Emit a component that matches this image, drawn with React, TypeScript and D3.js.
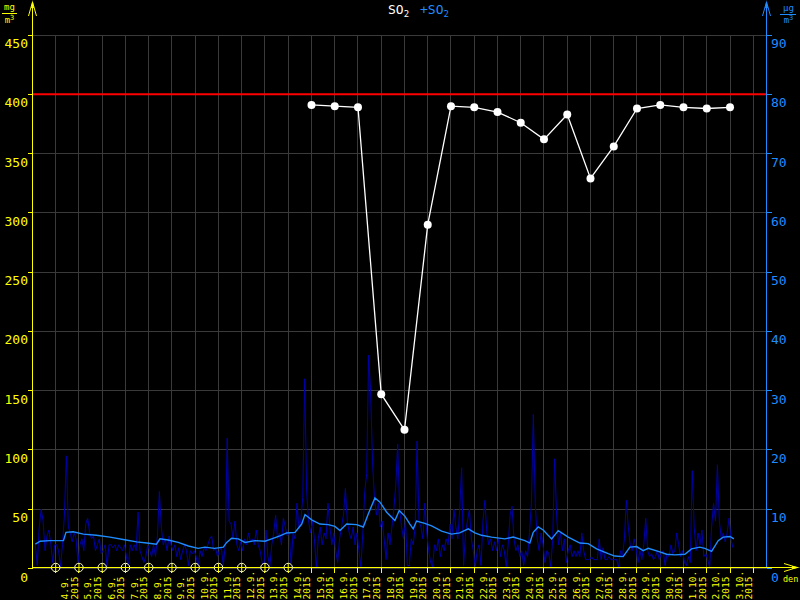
import React from "react";
import * as d3 from "d3";

const W = 800;
const H = 600;

// hourly-ish series (µg/m3, right axis), starting 3.9.2015 03:00, every 2 hours
const hourlyStart = "2015-09-03 03";
const hourlyStepHours = 2;
const hourlyValues = [
  4, 0.5, 7, 10, 8, 3, 5.5, 6.5, 4, 1, 4,
  4, 3, 0.3, 4, 9, 19, 7, 6, 4.5, 6, 5,
  1, 4, 5, 3, 7.5, 8.5, 6, 5, 5.5, 3, 4, 5,
  2.5, 3, 4, 0.3, 4, 4, 3.5, 4, 3, 4, 3.5, 3,
  4, 2, 0.3, 4, 3, 4, 3, 9.5, 3, 2, 1, 2,
  4, 3, 2, 4, 2, 5.5, 13,
  7, 4, 5, 3, 5.5, 4,
  3, 4, 2, 3.5, 1.5, 3, 4, 3, 0.5, 3, 2.5, 3,
  2, 0.2, 3, 2, 3.5, 3, 4, 5, 5.5, 3, 3.5, 2,
  3, 3.5, 0.5, 4, 22, 8, 7.5, 5, 8, 4, 3, 4.5,
  3, 5, 4, 6, 4.5, 5, 4, 6.5, 4, 3, 1, 0.5,
  6.5, 2, 0.3, 4, 6, 9, 5, 6, 4, 8.5,
  7, 5.5, 6, 0.5, 6, 5, 11, 7, 8, 12, 32, 13,
  8, 6, 8, 5, 0.2, 5, 7, 4, 6, 5, 11, 7,
  4, 6, 3, 1, 5, 7, 9, 13.5, 8, 6, 5, 7,
  4, 6, 3, 0.3, 6, 13, 16, 36, 30, 18, 12, 9,
  11, 7, 8, 5, 1.5, 6, 4, 7, 10, 14, 21, 10,
  7, 5, 8, 0.5, 0.5, 5, 4, 7, 21.5, 8, 7, 5,
  11, 6, 3, 1, 0.3, 4, 3, 5, 2, 4, 3, 5,
  4, 7.5, 5, 10, 7, 5, 10, 17, 0.5, 6, 8, 10,
  5, 3, 0.3, 3, 4, 0.5, 8, 11.5, 6, 4, 5, 3,
  4.5, 3, 5, 2, 4, 3, 0.3, 4, 9, 10.5, 5, 3,
  4, 2, 3, 0.5, 3, 2, 6, 11, 26,
  11, 5, 3, 6, 4, 1, 3, 2.5, 0.3, 5, 18.5, 9,
  4, 6, 3, 5, 1, 3, 4, 2, 3, 2, 3, 2,
  6, 3, 1.5, 1.5, 1.5, 2, 1.5, 1.5, 1.5, 5, 1.5, 3.5,
  1.5, 1.5, 2, 1.5, 1.5, 1.5, 1.5, 0.2, 3, 2, 5, 11.5,
  7, 4, 3, 5, 3.5, 1, 3, 1.5, 4, 8.5, 3, 2,
  2.5, 1.5, 2, 3, 1.5, 2.5, 3, 0.5, 2.5, 2, 4, 2.5,
  3, 6, 4, 2, 3, 1, 0.5, 2, 1, 16.5, 7, 3,
  6, 4, 6.5, 2, 2.5, 1.5, 0.2, 7, 11, 8, 17.5, 8,
  5, 6, 4.5, 6, 8.5, 5, 3.5,
];

// running average (µg/m3, right axis): hours since 3.9.2015 00:00 and values
const avgHours = [
  3, 8, 18, 32, 34.6, 42, 52.5, 66, 80, 96.6, 107.6, 118, 128, 131.6, 140, 150.5,
  161, 171, 178, 188, 197, 200.5, 205.6, 212.5, 219.4, 229.7, 240, 246.9, 255.4,
  262.4, 271, 277.9, 281.3, 288.2, 296.7, 305.3, 312.2, 317.4, 324.3, 334.6, 341.5,
  346.6, 353.5, 358.7, 365.6, 374.1, 378.6, 384.5, 389.6, 393, 396.5, 405, 412,
  422.3, 432.6, 441, 449.8, 456.7, 463.6, 473.9, 487.6, 496.2, 508.3, 513.4, 516.9,
  522, 527.2, 535.9, 542.7, 553, 565, 573.6, 582.3, 594.3, 601, 609.7, 616.7, 623.6,
  630.4, 635.6, 647.6, 654.5, 663.1, 673.4, 680.3, 688.9, 694, 701, 707.8, 713, 720, 724,
];
const avgValues = [
  4.1, 4.6, 4.7, 4.7, 6.1, 6.2, 5.8, 5.6, 5.3, 4.8, 4.5, 4.3, 4.1, 5, 4.8, 4.4,
  3.8, 3.4, 3.6, 3.4, 3.6, 4.4, 5.1, 5, 4.4, 4.7, 4.6, 5, 5.5,
  6, 6.1, 7.5, 9.1, 8.2, 7.5, 7.4, 7.1, 6.4, 7.5, 7.4, 7,
  9.2, 11.9, 11.2, 9.5, 8.1, 9.8, 8.8, 7.5, 6.7, 8, 7.6, 7.2,
  6.3, 5.8, 6, 6.7, 6, 5.6, 5.3, 5, 5.3, 4.7, 4.3, 6.1,
  7, 6.5, 5, 6.4, 5.3, 4.3, 4.2, 3.3, 2.5, 2.1, 2, 3.6, 3.7,
  3, 3.4, 2.8, 2.4, 2.3, 2.4, 3.3, 3.6, 3.4, 2.9, 4.7, 5.3, 5.4, 5,
];

// daily values (left axis)
const dailyDates = [
  "2015-09-15", "2015-09-16", "2015-09-17", "2015-09-18", "2015-09-19", "2015-09-20",
  "2015-09-21", "2015-09-22", "2015-09-23", "2015-09-24", "2015-09-25", "2015-09-26",
  "2015-09-27", "2015-09-28", "2015-09-29", "2015-09-30", "2015-10-01", "2015-10-02",
  "2015-10-03",
];
const dailyValues = [
  391, 390, 389, 147, 117, 290, 390, 389, 385, 376, 362, 383, 329, 356, 388, 391, 389, 388, 389,
];
// days without daily value
const missingDates = [
  "2015-09-04", "2015-09-05", "2015-09-06", "2015-09-07", "2015-09-08", "2015-09-09",
  "2015-09-10", "2015-09-11", "2015-09-12", "2015-09-13", "2015-09-14",
];

const limitValue = 400;
const leftTicks = [0, 50, 100, 150, 200, 250, 300, 350, 400, 450];
const rightTicks = [0, 10, 20, 30, 40, 50, 60, 70, 80, 90];
const labelYear = "2015";

const YELLOW = "#ffff00";
const BLUE = "#1e8cff";
const DARKBLUE = "#0000a8";
const GRID = "#3a3a3a";
const FONT = "'DejaVu Sans Mono', monospace";

const c = (v: number) => Math.floor(v) + 0.5;

export default function App() {
  const parseDay = d3.timeParse("%Y-%m-%d");
  const parseHour = d3.timeParse("%Y-%m-%d %H");
  const t0 = new Date(2015, 8, 3, 0);
  const x = d3
    .scaleTime()
    .domain([t0, new Date(2015, 9, 4, 13, 40)])
    .range([32.45, 766.5]);
  const yL = d3.scaleLinear().domain([0, 450]).range([568.5, 35]);
  const yR = d3.scaleLinear().domain([0, 90]).range([568.5, 35]);

  const start = parseHour(hourlyStart) as Date;
  const hourly = hourlyValues.map((v, i) => ({
    t: d3.timeHour.offset(start, i * hourlyStepHours),
    v,
  }));
  const avg = avgHours.map((h, i) => ({
    t: new Date(t0.getTime() + h * 3600 * 1000),
    v: avgValues[i],
  }));
  const daily = dailyDates.map((d, i) => ({ t: parseDay(d) as Date, v: dailyValues[i] }));
  const missing = missingDates.map((d) => parseDay(d) as Date);

  const days = d3.timeDay.range(new Date(2015, 8, 4), new Date(2015, 9, 5));
  const labelDays = days.slice(0, days.length - 1);
  const fmt = d3.timeFormat("%-d.%-m.");

  const lineR = d3
    .line<{ t: Date; v: number }>()
    .x((d) => x(d.t))
    .y((d) => yR(d.v));
  const lineL = d3
    .line<{ t: Date; v: number }>()
    .x((d) => x(d.t))
    .y((d) => yL(d.v));

  const x0 = c(x(t0));
  const x1 = c(x.range()[1]);
  const y0 = c(yL(0)) - 1;
  const yTop = c(yL(450));

  return (
    <div style={{ position: "fixed", left: 0, top: 0 }}>
      <svg width={W} height={H} style={{ display: "block", background: "#000" }}>
        <rect x={0} y={0} width={W} height={H} fill="#000" />
        {/* grid */}
        <g shapeRendering="crispEdges" stroke={GRID} strokeWidth={1}>
          {leftTicks.map((t) => (
            <line key={"h" + t} x1={x0} x2={x1} y1={c(yL(t))} y2={c(yL(t))} />
          ))}
          {days.map((d, i) => (
            <line key={"v" + i} x1={c(x(d))} x2={c(x(d))} y1={yTop} y2={y0} />
          ))}
        </g>
        {/* limit line */}
        <line
          x1={x0}
          x2={x1}
          y1={yL(limitValue)}
          y2={yL(limitValue)}
          stroke="#ff0000"
          strokeWidth={2}
        />
        {/* hourly series */}
        <path d={lineR(hourly) || ""} fill="none" stroke={DARKBLUE} strokeWidth={1} />
        {/* average */}
        <path d={lineR(avg) || ""} fill="none" stroke={BLUE} strokeWidth={1.4} />
        {/* daily series */}
        <path d={lineL(daily) || ""} fill="none" stroke="#ffffff" strokeWidth={1.3} />
        {daily.map((d, i) => (
          <circle key={"p" + i} cx={x(d.t)} cy={yL(d.v)} r={4} fill="#ffffff" />
        ))}

        {/* left axis */}
        <g shapeRendering="crispEdges" stroke={YELLOW}>
          <line x1={x0} x2={x0} y1={4} y2={y0} />
          {leftTicks.map((t) => (
            <line key={"lt" + t} x1={x0 - 5} x2={x0} y1={c(yL(t))} y2={c(yL(t))} />
          ))}
        </g>
        <polyline
          points={`${x0 - 4},16 ${x0},2 ${x0 + 4},16`}
          fill="none"
          stroke={YELLOW}
          strokeWidth={1}
        />
        <polygon points={`${x0 - 1.5},8 ${x0},0 ${x0 + 1.5},8`} fill={YELLOW} />
        {leftTicks.map((t) => (
          <text
            key={"ll" + t}
            x={28}
            y={yL(t) + 13}
            textAnchor="end"
            fill={YELLOW}
            fontFamily={FONT}
            fontSize={13}
          >
            {t}
          </text>
        ))}
        <g fill={YELLOW} fontFamily={FONT} fontSize={9} textAnchor="middle">
          <text x={9.5} y={10}>mg</text>
          <text x={9.5} y={23}>
            m<tspan fontSize={7} dy={-3}>3</tspan>
          </text>
        </g>
        <line x1={2} x2={17} y1={13.5} y2={13.5} stroke={YELLOW} shapeRendering="crispEdges" />

        {/* right axis */}
        <g shapeRendering="crispEdges" stroke={BLUE}>
          <line x1={x1} x2={x1} y1={4} y2={y0} />
          {rightTicks.map((t) => (
            <line key={"rt" + t} x1={x1} x2={x1 + 5} y1={c(yR(t))} y2={c(yR(t))} />
          ))}
        </g>
        <polyline
          points={`${x1 - 4},16 ${x1},2 ${x1 + 4},16`}
          fill="none"
          stroke={BLUE}
          strokeWidth={1}
        />
        <polygon points={`${x1 - 1.5},8 ${x1},0 ${x1 + 1.5},8`} fill={BLUE} />
        {rightTicks.map((t) => (
          <text
            key={"rl" + t}
            x={771}
            y={yR(t) + 13}
            textAnchor="start"
            fill={BLUE}
            fontFamily={FONT}
            fontSize={13}
          >
            {t}
          </text>
        ))}
        <g fill={BLUE} fontFamily={FONT} fontSize={9} textAnchor="middle">
          <text x={788.5} y={11}>µg</text>
          <text x={788.5} y={23}>
            m<tspan fontSize={7} dy={-3}>3</tspan>
          </text>
        </g>
        <line x1={780} x2={796} y1={14.5} y2={14.5} stroke={BLUE} shapeRendering="crispEdges" />

        {/* x axis */}
        <g shapeRendering="crispEdges" stroke={YELLOW}>
          <line x1={x0} x2={798} y1={y0} y2={y0} />
          {days.map((d, i) => (
            <line key={"xt" + i} x1={c(x(d))} x2={c(x(d))} y1={y0} y2={y0 + 5} />
          ))}
        </g>
        <polyline
          points={`784,${y0 - 4} 797,${y0} 784,${y0 + 4}`}
          fill="none"
          stroke={YELLOW}
          strokeWidth={1}
        />
        <polygon points={`792,${y0 - 1.5} 800,${y0} 792,${y0 + 1.5}`} fill={YELLOW} />
        <text x={783} y={582} fill={YELLOW} fontFamily={FONT} fontSize={8.5}>
          den
        </text>
        {missing.map((d, i) => {
          const cx = x(d);
          return (
            <g key={"m" + i}>
              <circle cx={cx} cy={y0} r={4.2} fill="#000" stroke="#ffffd0" strokeWidth={1} />
              <line x1={cx - 4} x2={cx + 4} y1={y0} y2={y0} stroke={YELLOW} />
              <line x1={cx} x2={cx} y1={y0 - 4} y2={y0 + 5} stroke={YELLOW} />
            </g>
          );
        })}
        {labelDays.map((d, i) => (
          <text
            key={"xl" + i}
            transform={`translate(${x(d) + 12.5},599.5) rotate(-90)`}
            fill={YELLOW}
            fontFamily={FONT}
            fontSize={9.5}
          >
            <tspan x={0} y={0}>{fmt(d)}</tspan>
            <tspan x={0} y={9.5}>{labelYear}</tspan>
          </text>
        ))}

        {/* title */}
        <text x={388} y={13.5} fill="#ffffff" fontFamily={FONT} fontSize={13}>
          SO<tspan fontSize={9} dy={3}>2</tspan>
        </text>
        <text x={420} y={13.5} fill={BLUE} fontFamily={FONT} fontSize={13}>
          +SO<tspan fontSize={9} dy={3}>2</tspan>
        </text>
      </svg>
    </div>
  );
}
